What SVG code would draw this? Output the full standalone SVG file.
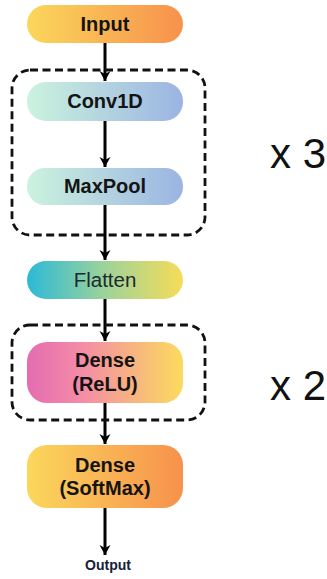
<svg xmlns="http://www.w3.org/2000/svg" width="327" height="579" viewBox="0 0 327 579">
<style>
.lbl{font-family:"Liberation Sans",Arial,sans-serif;font-weight:bold;font-size:20px;fill:#141414;text-anchor:middle}
.reg{font-family:"Liberation Sans",Arial,sans-serif;font-size:20.5px;fill:#1c2a2e;text-anchor:middle}
.rep{font-family:"Liberation Sans",Arial,sans-serif;font-size:42px;fill:#111}
.grp{fill:none;stroke:#111;stroke-width:2.8;stroke-dasharray:8 4.5}
.conn{stroke:#000;stroke-width:3;fill:none;marker-end:url(#ah)}
</style>
<defs>
<linearGradient id="gOrange" x1="0" x2="1" y1="0" y2="0"><stop offset="0" stop-color="#FBD75C"/><stop offset="1" stop-color="#F7914C"/></linearGradient>
<linearGradient id="gBlue" x1="0" x2="1" y1="0" y2="0"><stop offset="0" stop-color="#CBF3DE"/><stop offset="1" stop-color="#9BB4E2"/></linearGradient>
<linearGradient id="gFlat" x1="0" x2="1" y1="0" y2="0"><stop offset="0" stop-color="#2CB9D7"/><stop offset="0.5" stop-color="#9DD39A"/><stop offset="1" stop-color="#F7DC57"/></linearGradient>
<linearGradient id="gPink" x1="0" x2="1" y1="0" y2="0"><stop offset="0" stop-color="#E46CB1"/><stop offset="0.35" stop-color="#F48CA6"/><stop offset="1" stop-color="#FBDB5D"/></linearGradient>
<marker id="ah" markerWidth="12" markerHeight="12" refX="10" refY="6" orient="auto" markerUnits="userSpaceOnUse"><path d="M0,0.5 L10,6 L0,11.5 L3,6 Z" fill="#000"/></marker>
</defs>
<g id="connectors">
<line class="conn" x1="105" y1="43" x2="105" y2="81"/>
<line class="conn" x1="105" y1="121" x2="105" y2="167"/>
<line class="conn" x1="105" y1="205" x2="105" y2="260"/>
<line class="conn" x1="105" y1="299" x2="105" y2="341"/>
<line class="conn" x1="105" y1="403" x2="105" y2="444"/>
<line class="conn" x1="105" y1="508" x2="105" y2="555"/>
</g>
<g id="group1"><rect class="grp" x="12" y="70" width="193" height="165" rx="18"/><text class="rep" x="270" y="168">x 3</text></g>
<g id="group2"><rect class="grp" x="12" y="325" width="193" height="95" rx="18"/><text class="rep" x="270" y="400">x 2</text></g>
<g id="input"><rect x="27" y="5" width="156" height="38" rx="19" fill="url(#gOrange)"/><text class="lbl" x="105" y="31">Input</text></g>
<g id="conv1d"><rect x="27" y="82" width="156" height="39" rx="19" fill="url(#gBlue)"/><text class="lbl" x="105" y="108">Conv1D</text></g>
<g id="maxpool"><rect x="27" y="168" width="156" height="37" rx="18" fill="url(#gBlue)"/><text class="lbl" x="105" y="193">MaxPool</text></g>
<g id="flatten"><rect x="27" y="261" width="156" height="38" rx="19" fill="url(#gFlat)"/><text class="reg" x="105" y="287">Flatten</text></g>
<g id="dense-relu"><rect x="27" y="342" width="156" height="61" rx="20" fill="url(#gPink)"/><text class="lbl" x="105" y="367">Dense</text><text class="lbl" x="105" y="391">(ReLU)</text></g>
<g id="dense-softmax"><rect x="27" y="445" width="156" height="63" rx="20" fill="url(#gOrange)"/><text class="lbl" x="105" y="472">Dense</text><text class="lbl" x="105" y="495">(SoftMax)</text></g>
<g id="output"><text x="108" y="570" style="font-family:'Liberation Sans',Arial,sans-serif;font-weight:bold;font-size:14px;fill:#16203a;text-anchor:middle">Output</text></g>
</svg>
